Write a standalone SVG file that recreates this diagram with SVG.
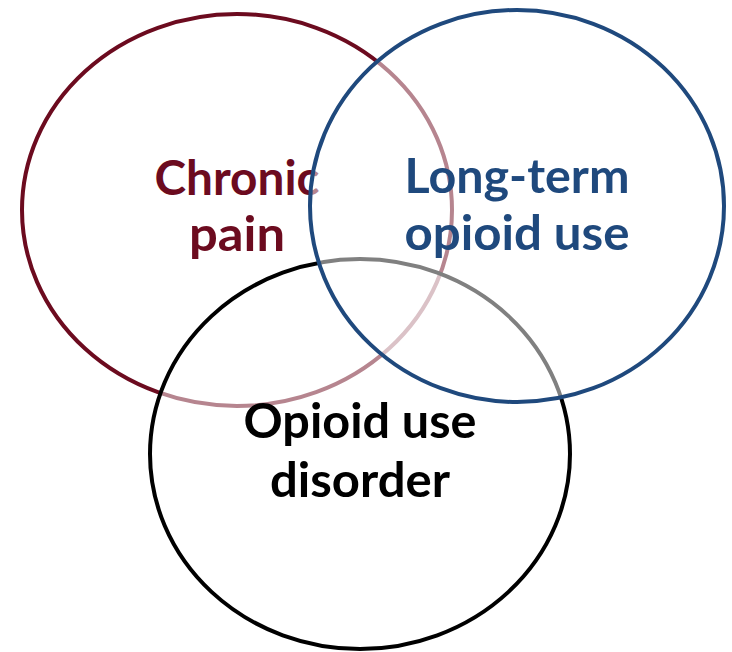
<svg xmlns="http://www.w3.org/2000/svg" width="732" height="652" viewBox="0 0 732 652">
<style>
.t{font-family:Lato,"Open Sans","Liberation Sans",sans-serif;font-weight:700;font-size:48px;text-anchor:middle}
.c{stroke-width:4}
</style>
<rect width="732" height="652" fill="#fff"/>
<g id="chronic-pain">
<ellipse class="c" cx="237" cy="210" rx="215" ry="196" fill="none" stroke="#6C0B1F"/>
<text class="t" fill="#6C0B1F" x="237" y="195" textLength="165" lengthAdjust="spacingAndGlyphs">Chronic</text>
<text class="t" fill="#6C0B1F" x="237" y="251" textLength="96" lengthAdjust="spacingAndGlyphs">pain</text>
</g>
<g id="opioid-use-disorder">
<ellipse class="c" cx="360" cy="454" rx="210" ry="195" fill="#fff" fill-opacity="0.5" stroke="#000"/>
<text class="t" fill="#000" x="360" y="438" textLength="233" lengthAdjust="spacingAndGlyphs">Opioid use</text>
<text class="t" fill="#000" x="360" y="497" textLength="180" lengthAdjust="spacingAndGlyphs">disorder</text>
</g>
<g id="long-term-opioid-use">
<ellipse class="c" cx="517" cy="206" rx="207" ry="196" fill="#fff" fill-opacity="0.5" stroke="#1F497D"/>
<text class="t" fill="#1F497D" x="517" y="193" textLength="225" lengthAdjust="spacingAndGlyphs">Long-term</text>
<text class="t" fill="#1F497D" x="517" y="250" textLength="225" lengthAdjust="spacingAndGlyphs">opioid use</text>
</g>
<g id="connectors"/>
</svg>
